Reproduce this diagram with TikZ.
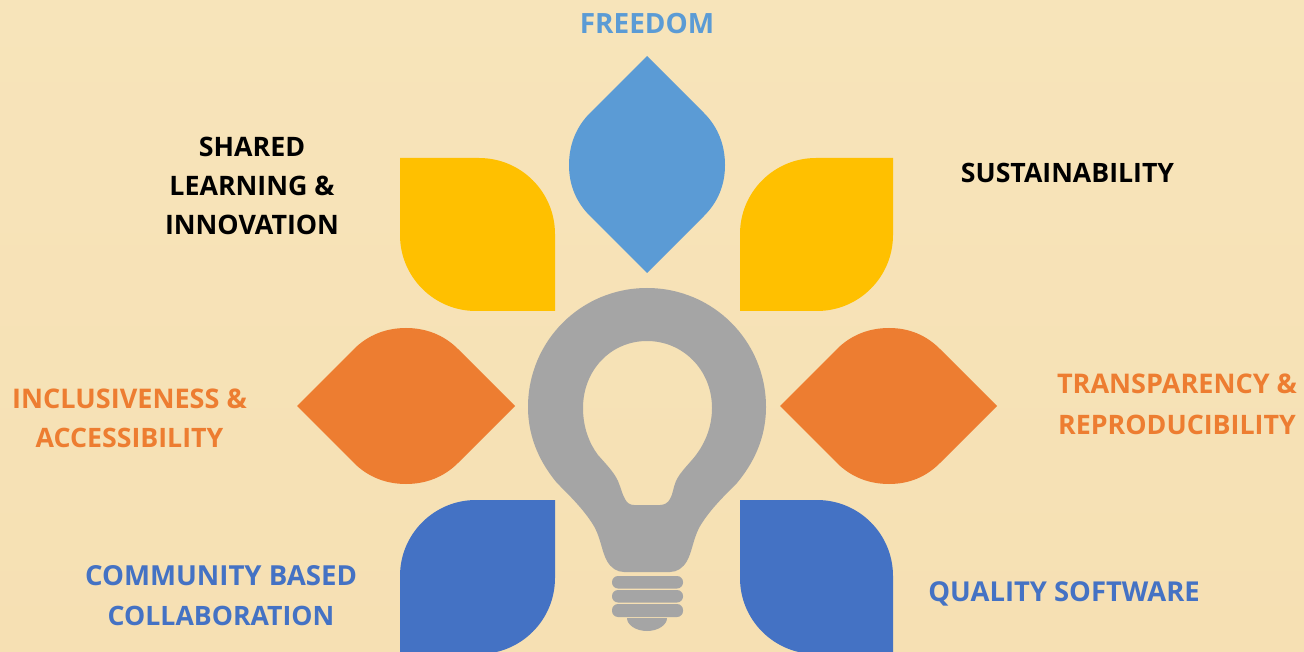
\documentclass[tikz,border=0pt]{standalone}
\usepackage{fontspec}
\setmainfont{Open Sans}
\definecolor{bgA}{HTML}{F7E4BA}
\definecolor{bgB}{HTML}{F6E0B3}
\definecolor{petalyellow}{HTML}{FFC000}
\definecolor{petalsky}{HTML}{5B9BD5}
\definecolor{petalorange}{HTML}{ED7D31}
\definecolor{petalblue}{HTML}{4472C4}
\definecolor{bulbgrey}{HTML}{A5A5A5}
\newcommand{\fsz}[1]{\fontsize{#1}{29.5}\selectfont}
\tikzset{
  lab/.style={font=\fsz{#1}\bfseries, align=center, inner sep=0pt, anchor=center},
  lab/.default=20,
  bulbpart/.style={fill=bulbgrey, draw=none},
}
\begin{document}
\begin{tikzpicture}[x=0.75pt,y=-0.75pt]
\useasboundingbox (0,0) rectangle (1304,652);
\shade[top color=bgA,bottom color=bgB] (0,0) rectangle (1304,652);
\clip (0,0) rectangle (1304,652);
% vertical petal
\fill[petalsky] (647,56) -- (704,113) .. controls (718,127) and (725,145) .. (725,165) .. controls (725,185) and (718,202) .. (704,216) -- (647,273) -- (590,216) .. controls (576,202) and (569,185) .. (569,165) .. controls (569,145) and (576,127) .. (590,113) -- cycle;
% horizontal petals
\fill[petalorange] (297,406) -- (354,349) .. controls (368,335) and (386,328) .. (406,328) .. controls (426,328) and (444,335) .. (458,349) -- (515,406) -- (458,463) .. controls (444,477) and (426,484) .. (406,484) .. controls (386,484) and (368,477) .. (354,463) -- cycle;
\fill[petalorange] (780,406) -- (837,349) .. controls (851,335) and (869,328) .. (889,328) .. controls (909,328) and (926,335) .. (940,349) -- (997,406) -- (940,463) .. controls (926,477) and (909,484) .. (889,484) .. controls (869,484) and (851,477) .. (837,463) -- cycle;
% yellow
\fill[petalyellow] (400,158) -- (479,158) .. controls (521,158) and (555,192) .. (555,234) -- (555,311) -- (476,311) .. controls (434,311) and (400,277) .. (400,235) -- cycle;
\fill[petalyellow] (893,158) -- (816,158) .. controls (774,158) and (740,192) .. (740,234) -- (740,311) -- (817,311) .. controls (859,311) and (893,277) .. (893,235) -- cycle;
% blue
\fill[petalblue] (555,500) -- (476,500) .. controls (434,500) and (400,534) .. (400,576) -- (400,670) -- (479,654) .. controls (521,654) and (555,620) .. (555,578) -- cycle;
\fill[petalblue] (740,500) -- (817,500) .. controls (859,500) and (893,534) .. (893,576) -- (893,670) -- (816,654) .. controls (774,654) and (740,620) .. (740,578) -- cycle;
% bulb
\fill[bulbpart,even odd rule]
 (647,288) .. controls (713,288) and (766,341) .. (766,407)
 .. controls (766,440) and (752,465) .. (737,483)
 .. controls (722,498) and (708,512) .. (699,528)
 .. controls (693,540) and (692,552) .. (687,561)
 .. controls (683,568) and (677,572) .. (670,572)
 -- (624,572)
 .. controls (617,572) and (611,568) .. (607,561)
 .. controls (602,552) and (601,540) .. (595,528)
 .. controls (586,512) and (572,498) .. (557,483)
 .. controls (542,465) and (528,440) .. (528,407)
 .. controls (528,341) and (581,288) .. (647,288) -- cycle
 (647,341) .. controls (611,341) and (583,370) .. (583,408)
 .. controls (583,427) and (589,443) .. (598,455)
 .. controls (605,463) and (614,472) .. (618,481)
 .. controls (621,488) and (622,494) .. (625,499)
 .. controls (627,503) and (630,505) .. (634,505)
 -- (660,505)
 .. controls (664,505) and (668,503) .. (670,499)
 .. controls (673,494) and (673,488) .. (676,481)
 .. controls (680,472) and (690,463) .. (696,455)
 .. controls (705,443) and (712,427) .. (712,408)
 .. controls (712,370) and (683,341) .. (647,341) -- cycle;
\fill[bulbpart,rounded corners=4.5pt] (612,576) rectangle (683,588.5);
\fill[bulbpart,rounded corners=4.5pt] (612,590) rectangle (683,602.5);
\fill[bulbpart,rounded corners=4.5pt] (612,604) rectangle (683,617);
\fill[bulbpart] (627,618) -- (667,618) .. controls (667,625) and (658,631) .. (647,631) .. controls (636,631) and (627,625) .. (627,618) -- cycle;
% labels
\node[lab=20.95,text=petalsky] (freedom) at (647,23.5) {FREEDOM};
\node[lab=20.1,text=black] (shared) at (252,186) {SHARED\\LEARNING \&\\INNOVATION};
\node[lab=20,text=black] (sustain) at (1067.5,172.5) {SUSTAINABILITY};
\node[lab=20.3,text=petalorange] (transp) at (1177,404.5) {TRANSPARENCY \&\\[1.5pt]\fsz{20.1}REPRODUCIBILITY};
\node[lab=20.3,text=petalorange] (inclus) at (129.5,418.5) {INCLUSIVENESS \&\\\fsz{20.05}ACCESSIBILITY};
\node[lab=20.7,text=petalblue] (commun) at (221,595.5) {COMMUNITY BASED\\\fsz{20}COLLABORATION};
\node[lab=20.55,text=petalblue] (quality) at (1064,594) {QUALITY SOFTWARE};
\end{tikzpicture}
\end{document}
